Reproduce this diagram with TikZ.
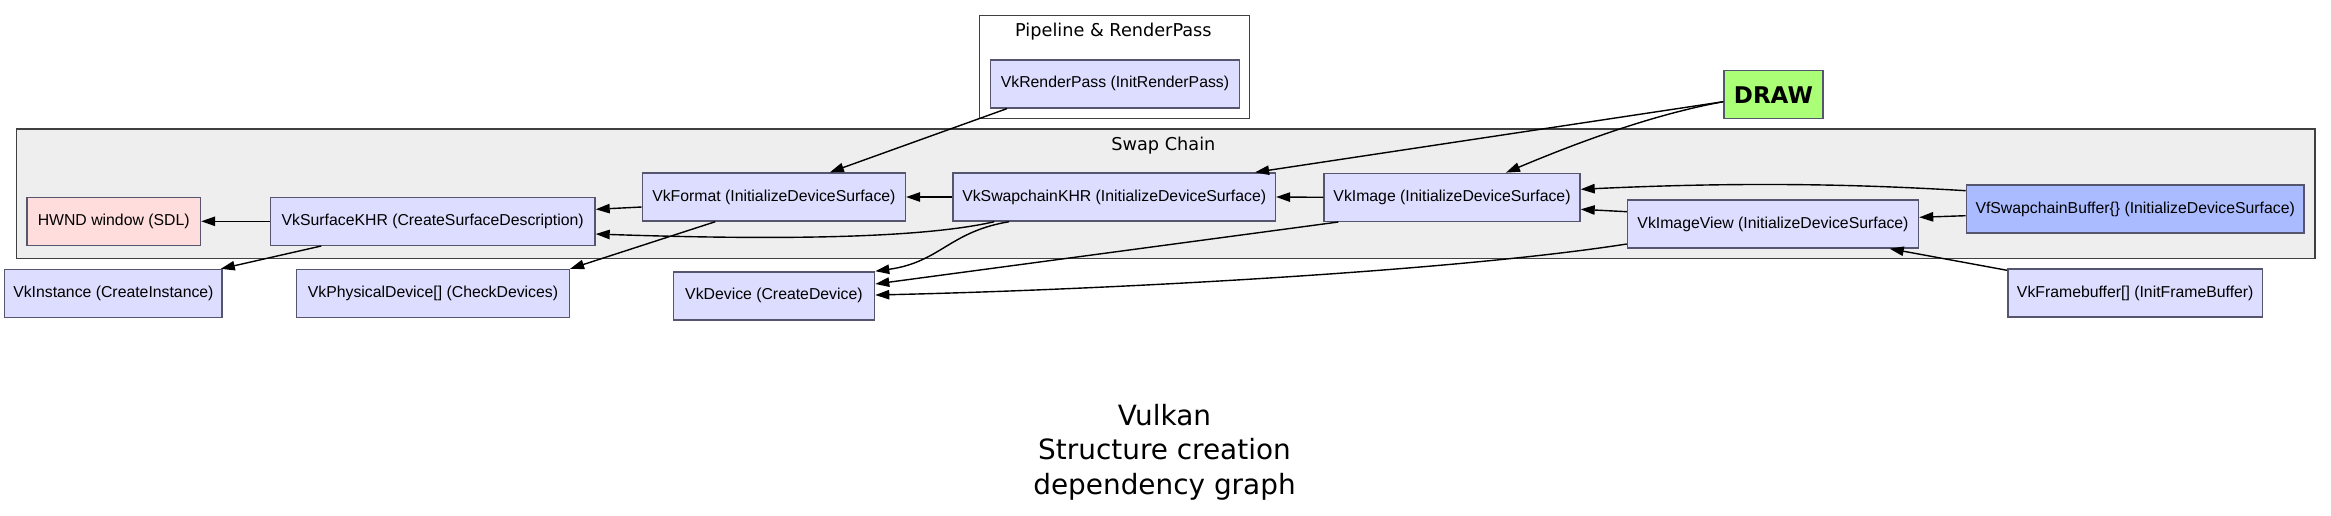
\documentclass[tikz,border=0pt]{standalone}
\usepackage{fontspec}
\setmainfont{Liberation Sans}
\newfontfamily\graphfont{DejaVu Sans}
\usetikzlibrary{arrows.meta, calc}
\definecolor{objfill}{RGB}{221,221,255}
\definecolor{winfill}{RGB}{255,221,221}
\definecolor{buffill}{RGB}{170,187,255}
\definecolor{drawfill}{RGB}{170,255,119}
\definecolor{clusterfill}{RGB}{238,238,238}
\definecolor{objline}{RGB}{85,85,110}
\tikzset{x=0.5pt, y=-0.5pt, % one unit is one pixel of the graph, y points down
vkobj/.style={ % every Vulkan object box
draw=objline, fill=objfill, line width=0.7pt,
minimum height=24pt, inner sep=0pt,
font=\fontsize{7.9}{9.5}\selectfont},
cluster/.style={draw=black!75, line width=0.6pt, inner sep=0pt}, % subgraph frames
clusterlabel/.style={anchor=base, font=\graphfont\fontsize{8.85}{10}\selectfont},
dep/.style={->, >={Triangle[length=7pt,width=4.7pt]}, line width=0.7pt}, % dependency arrows
every edge/.style={draw, dep}}

\begin{document}
\begin{tikzpicture}
    \path[fill=white, use as bounding box] (0,0) rectangle (2331,515);

    % subgraphs
    \node[cluster, fill=clusterfill, minimum width=1149.2pt, minimum height=64.75pt] (swapchain) at (1165.8,193.75) {};
    \node[cluster, fill=white, minimum width=135pt, minimum height=51.3pt] (pipeline) at (1114.5,67) {};
    \node[clusterlabel] (swaplabel) at (1163.4,150) {Swap Chain};
    \node[clusterlabel] (pipelabel) at (1113.4,36) {Pipeline \& RenderPass};

    % objects
    \node[vkobj, fill=winfill, minimum width=86.8pt] (hwnd) at (113.7,221.3) {HWND window (SDL)};
    \node[vkobj, minimum width=162.3pt] (surf) at (432.7,221.3) {VkSurfaceKHR (CreateSurfaceDescription)};
    \node[vkobj, minimum width=108.7pt] (inst) at (113.4,293.5) {VkInstance (CreateInstance)};
    \node[vkobj, minimum width=136.4pt] (phys) at (433,293.5) {VkPhysicalDevice[] (CheckDevices)};
    \node[vkobj, minimum width=131.5pt] (fmt) at (773.9,197) {VkFormat (InitializeDeviceSurface)};
    \node[vkobj, minimum width=161.2pt] (swap) at (1114.2,197) {VkSwapchainKHR (InitializeDeviceSurface)};
    \node[vkobj, minimum width=100.7pt] (dev) at (773.9,295.9) {VkDevice (CreateDevice)};
    \node[vkobj, minimum width=124.3pt] (rp) at (1115,83.9) {VkRenderPass (InitRenderPass)};
    \node[vkobj, minimum width=128pt] (img) at (1452,197.3) {VkImage (InitializeDeviceSurface)};
    \node[vkobj, minimum width=145.5pt] (iv) at (1773,224) {VkImageView (InitializeDeviceSurface)};
    \node[vkobj, fill=buffill, minimum width=168.8pt] (buf) at (2135.2,209) {VfSwapchainBuffer\{\} (InitializeDeviceSurface)};
    \node[vkobj, minimum width=127.4pt] (fb) at (2135.2,293) {VkFramebuffer[] (InitFrameBuffer)};
    \node[vkobj, fill=drawfill, minimum width=49.4pt, font=\graphfont\bfseries\fontsize{11.5}{13}\selectfont] (drw) at (1773.4,94.7) {DRAW};

    \node[font=\graphfont\fontsize{13.95}{17.25}\selectfont, align=center, inner sep=0pt] (title) at (1164.5,452) {Vulkan\\Structure creation\\dependency graph};

    % dependencies
    \draw (surf.west) edge (hwnd.east);
    \draw ($(surf.south west)+(51.5,0)$) edge ($(inst.north east)+(-2,0)$);
    \draw ($(fmt.west)+(0,10)$) edge ($(surf.east)+(0,-12)$);
    \draw[dep] ($(swap.south west)+(42,0)$) .. controls +(-65,15) and +(205,7) .. ($(surf.east)+(0,12.7)$);
    \draw ($(fmt.south west)+(73.6,0)$) edge (phys.north east);
    \draw ($(rp.south west)+(17,0)$) edge ($(fmt.north)+(56,0)$);
    \draw (swap.west) edge (fmt.east);
    \draw[dep] ($(swap.south west)+(56.8,0)$) .. controls +(-60,10) and +(65,-9) .. (dev.north east);
    \draw (img.west) edge (swap.east);
    \draw ($(img.south west)+(15,0)$) edge ($(dev.east)+(0,-11.9)$);
    \draw[dep] ($(iv.west)+(0,20)$) .. controls +(-180,28) and +(220,-5) .. ($(dev.east)+(0,-0.9)$);
    \draw ($(drw.west)+(0,7)$) edge ($(swap.north east)+(-21,0)$);
    \draw[dep] ($(drw.west)+(0,7)$) .. controls +(-55,10) and +(95,-40) .. ($(img.north)+(54,0)$);
    \draw[dep] ($(buf.west)+(0,-18.3)$) .. controls +(-100,-6) and +(170,-8) .. ($(img.east)+(0,-8)$);
    \draw ($(iv.west)+(0,-12.3)$) edge ($(img.east)+(0,12)$);
    \draw ($(buf.west)+(0,6.7)$) edge ($(iv.east)+(0,-6.7)$);
    \draw ($(fb.north west)+(0,2)$) edge ($(iv.south east)+(-29.5,0)$);
\end{tikzpicture}
\end{document}
